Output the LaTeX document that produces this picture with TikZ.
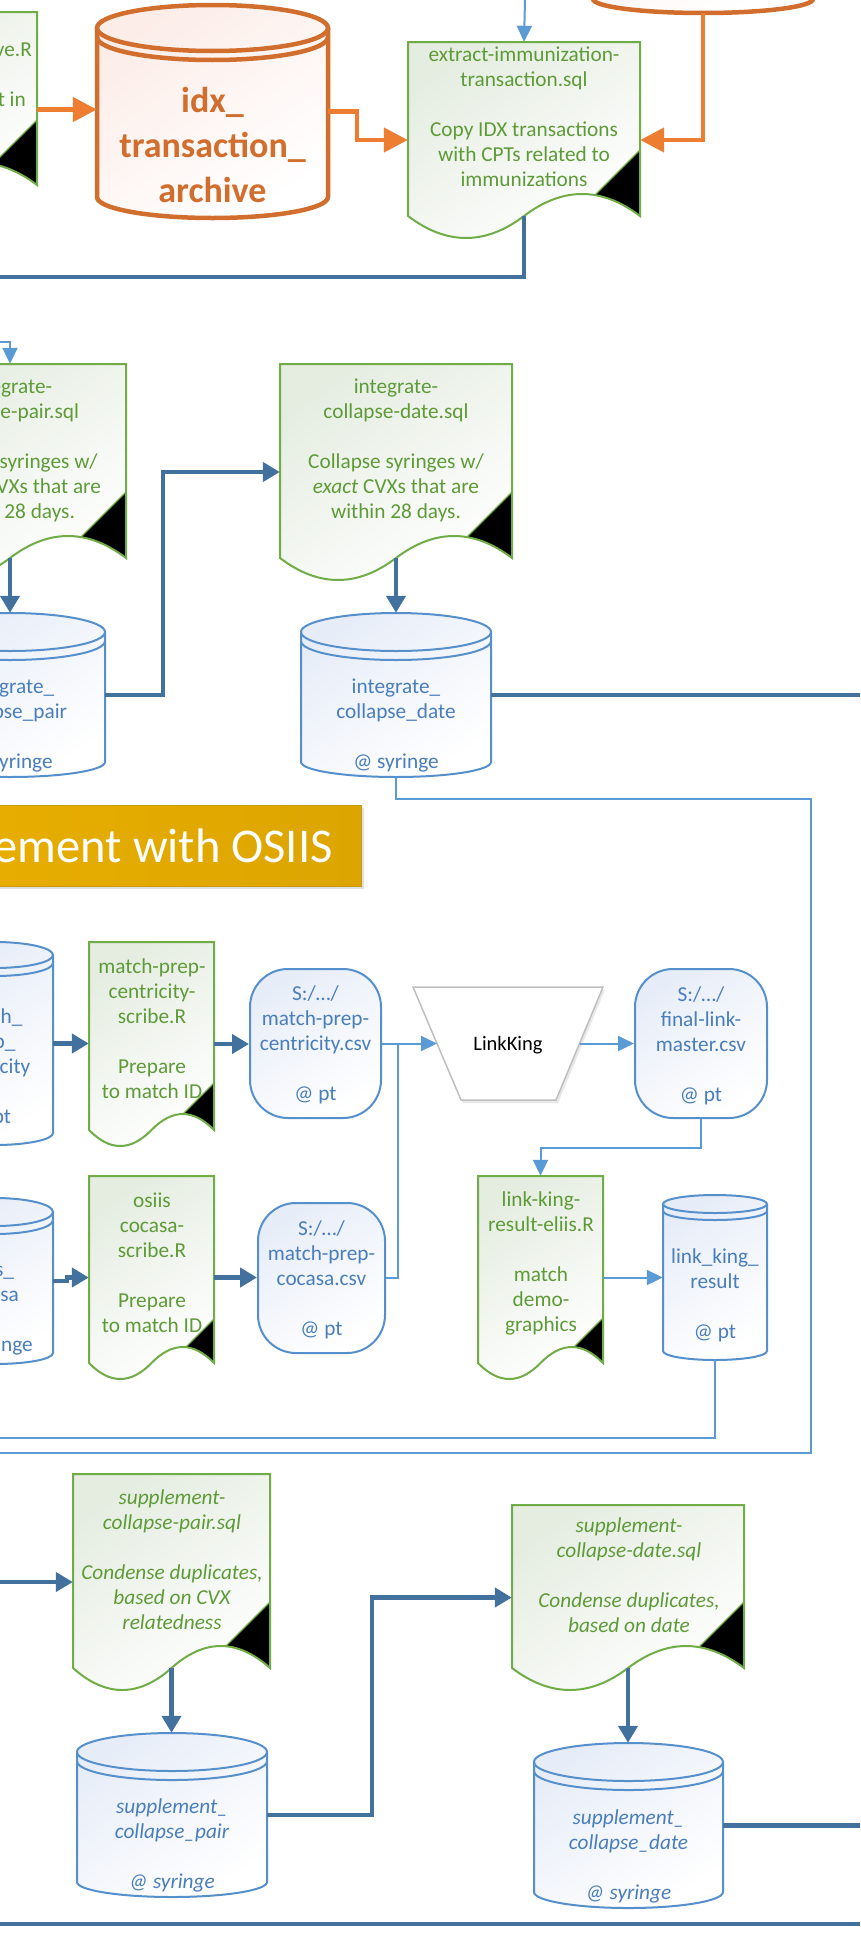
\documentclass[tikz,border=0pt]{standalone}
\usepackage{fontspec}
\setmainfont{Carlito}
\usetikzlibrary{arrows.meta,calc,fit,shadows}
\definecolor{tk}{HTML}{41719C}
\definecolor{tn}{HTML}{5B9BD5}
\definecolor{gline}{HTML}{70AD47}
\definecolor{gtxt}{HTML}{5E9B38}
\definecolor{gfill}{HTML}{E5EDE1}
\definecolor{bline}{HTML}{5590CC}
\definecolor{btxt}{HTML}{4A7EBB}
\definecolor{bfill}{HTML}{E7EDF8}
\definecolor{oline}{HTML}{D26E2D}
\definecolor{oarrow}{HTML}{ED7D31}
\definecolor{ofill}{HTML}{FCEDE8}
\definecolor{gold}{HTML}{DCA500}
\definecolor{goldl}{HTML}{F0B400}
\definecolor{goldd}{HTML}{C89B14}
\newcommand{\st}{\rule{0pt}{19pt}}
\tikzset{
  tkline/.style={draw=tk, line width=4.5pt},
  tkarrow/.style={tkline, -{Triangle[length=17pt,width=19pt]}},
  tnline/.style={draw=tn, line width=2pt},
  tnarrow/.style={tnline, -{Triangle[length=16pt,width=15pt]}},
  orarrow/.style={draw=oarrow, line width=4.5pt, -{Triangle[length=24pt,width=24pt]}},
  docfill/.style={top color=gfill, bottom color=white, shading angle=35},
  docline/.style={draw=gline, line width=2pt},
  cb fill/.style={top color=bfill, bottom color=white, shading angle=35},
  cb line/.style={draw=bline, line width=2pt},
  co fill/.style={top color=ofill, bottom color=white, shading angle=35},
  co line/.style={draw=oline, line width=4.5pt},
  rbox/.style={draw=bline, line width=2pt, rounded corners=38pt, top color=bfill, bottom color=white, shading angle=35, inner sep=0pt},
  tx/.style={inner sep=0pt, anchor=north, align=center, font=\fontsize{21.3}{25}\selectfont},
  gtx/.style={tx, text=gtxt},
  gitx/.style={tx, text=gtxt, font=\fontsize{21.3}{25}\selectfont\itshape},
  btx/.style={tx, text=btxt},
  bitx/.style={tx, text=btxt, font=\fontsize{21.3}{25}\selectfont\itshape},
}
\newcommand{\DOC}[8]{%
  \def\mydocpath{(#2,#4) -- (#3,#4) -- (#3,#5)
    .. controls ({(#3)-((#3)-(#2))/6},{(#5)-1.333*(#6)}) and ({((#2)+(#3))/2+((#3)-(#2))/6},{(#5)-1.333*(#6)}) .. ({((#2)+(#3))/2},#5)
    .. controls ({((#2)+(#3))/2-((#3)-(#2))/6},{(#5)+1.333*(#6)}) and ({(#2)+((#3)-(#2))/6},{(#5)+1.333*(#6)}) .. (#2,#5) -- cycle}%
  \path[docfill] \mydocpath;
  \begin{scope}
    \clip \mydocpath;
    \fill[black] (#3,{(#5)-(#7)}) -- ({(#3)-(#8)-40},{(#5)-(#7)+(#8)+40}) -- ({(#3)+10},{(#5)+60}) -- ({(#3)+10},{(#5)-(#7)}) -- cycle;
    \draw[docline, line width=1.2pt] (#3,{(#5)-(#7)}) -- ({(#3)-(#8)-40},{(#5)-(#7)+(#8)+40});
  \end{scope}
  \draw[docline] \mydocpath;
  \node[fit={(#2,#4) (#3,{(#5)+(#6)})}, inner sep=0pt] (#1) {};
  \coordinate (#1-w) at ({((#2)+(#3))/2},#5);
}
\newcommand{\CYL}[9]{%
  \path[#9 fill] (#2,#5) -- (#2,#6) arc[start angle=180,end angle=0,x radius={((#3)-(#2))/2},y radius={(#7)-(#6)}] -- (#3,#5) arc[start angle=0,end angle=-180,x radius={((#3)-(#2))/2},y radius={(#5)-(#4)}] -- cycle;
  \draw[#9 line] (#2,#5) -- (#2,#6) arc[start angle=180,end angle=0,x radius={((#3)-(#2))/2},y radius={(#7)-(#6)}] -- (#3,#5);
  \draw[#9 line] ({((#2)+(#3))/2},#5) ellipse[x radius={((#3)-(#2))/2},y radius={(#5)-(#4)}];
  \draw[#9 line] (#2,{(#5)+(#8)}) arc[start angle=180,end angle=0,x radius={((#3)-(#2))/2},y radius={(#5)-(#4)}];
  \node[fit={(#2,#4) (#3,#7)}, inner sep=0pt] (#1) {};
}
\begin{document}
\begin{tikzpicture}[x=1pt,y=-1pt]
\useasboundingbox (0,0) rectangle (860,1954);
\clip (0,0) rectangle (860,1954);
\fill[white] (0,0) rectangle (860,1954);

% ---------- top section ----------
\DOC{leftdoc}{-195}{37}{12}{185}{22}{65}{43}
\node[gtx, anchor=base east] (frag1) at (32,56) {ve.R};
\node[gtx, anchor=base east] (frag2) at (26,106) {t in};

\CYL{ocyl}{97}{328}{5}{28}{197}{218}{9}{co}
\node[inner sep=0pt, anchor=north, align=center, text=oline, font=\fontsize{36}{45}\selectfont\bfseries] (tocyl) at (212.5,78) {\rule{0pt}{34pt}idx\_\\transaction\_\\archive};
\CYL{otr}{593}{813}{-220}{-200}{-1}{13}{9}{co}

\DOC{extract}{408}{640}{42}{216}{22}{66}{43}
\node[gtx] (textract) at (524,42) {\st extract-immunization-\\transaction.sql\\[25pt]Copy IDX transactions\\with CPTs related to\\immunizations};

% ---------- integrate section ----------
\DOC{icpairdoc}{-106}{126}{364}{558}{22}{66}{44}
\node[gtx] (ticpairdoc) at (10,374) {\st integrate-\\collapse-pair.sql\\[25pt]Collapse syringes w/\\\phantom{\textit{related}} CVXs that are\\within 28 days.};
\DOC{icdatedoc}{280}{512}{364}{558}{22}{66}{45}
\node[gtx] (ticdatedoc) at (396,374) {\st integrate-\\collapse-date.sql\\[25pt]Collapse syringes w/\\\textit{exact} CVXs that are\\within 28 days.};

\CYL{icpaircyl}{-85}{105}{613}{632}{762}{777}{9}{cb}
\node[btx] (ticpaircyl) at (10,674) {\st integrate\_\\collapse\_pair\\[25pt]@ syringe};
\CYL{icdatecyl}{301}{491}{613}{632}{762}{777}{9}{cb}
\node[btx] (ticdatecyl) at (396,674) {\st integrate\_\\collapse\_date\\[25pt]@ syringe};

% ---------- OSIIS section ----------
\node[fit={(-300,805) (361,886)}, inner sep=0pt, left color=goldl, right color=gold, draw=goldd, line width=1pt, drop shadow={opacity=0.25,shadow xshift=3pt,shadow yshift=-3pt}] (banner) {};
\node[anchor=base east, inner sep=0pt, text=white, font=\fontsize{48.5}{56}\selectfont] (tbanner) at (333,862) {Supplement with OSIIS};

\CYL{mpccyl}{-63}{53}{942}{955}{1133}{1145}{8}{cb}
\node[btx] (tmpccyl) at (-10,1004) {\st match\_\\prep\_\\centricity\\[25pt]@ pt};
\DOC{mpcdoc}{89}{214}{942}{1130}{16}{47}{29}
\node[gtx] (tmpcdoc) at (152,954) {\st match-prep-\\centricity-\\scribe.R\\[25pt]Prepare\\to match ID};
\node[rbox, minimum width=131pt, minimum height=149pt] (mpcsv) at (315.5,1043.5) {};
\node[btx] (tmpcsv) at (315.5,981) {\st S:/…/\\match-prep-\\centricity.csv\\[25pt]@ pt};

\draw[draw=black!25, line width=1.5pt, fill=white, drop shadow={opacity=0.18,shadow xshift=2pt,shadow yshift=-3pt}] (413,987) -- (603,987) -- (556,1100) -- (461,1100) -- cycle;
\node[fit={(413,987) (603,1100)}, inner sep=0pt] (lkbox) {};
\node[inner sep=0pt, font=\fontsize{20.5}{24}\selectfont, text=black] (lk) at (508,1045) {LinkKing};
\coordinate (lkW) at (437,1043.5);
\coordinate (lkE) at (579.5,1043.5);

\node[rbox, minimum width=132pt, minimum height=149pt] (flm) at (701,1043.5) {};
\node[btx] (tflm) at (701,982) {\st S:/…/\\final-link-\\master.csv\\[25pt]@ pt};

\CYL{cccyl}{-63}{53}{1198}{1212}{1353}{1364}{8}{cb}
\node[btx] (tcccyl) at (-10,1257) {\st osiis\_\\cocasa\\[25pt]@ syringe};
\DOC{ccdoc}{89}{214}{1176}{1363}{16}{44}{29}
\node[gtx] (tccdoc) at (152,1188) {\st osiis\\cocasa-\\scribe.R\\[25pt]Prepare\\to match ID};
\node[rbox, minimum width=127pt, minimum height=150pt] (ccsv) at (321.5,1278) {};
\node[btx] (tccsv) at (321.5,1216) {\st S:/…/\\match-prep-\\cocasa.csv\\[25pt]@ pt};

\DOC{lkrdoc}{478}{603}{1176}{1363}{16}{45}{30}
\node[gtx] (tlkrdoc) at (541,1187) {\st link-king-\\result-eliis.R\\[25pt]match\\demo-\\graphics};
\CYL{lkrcyl}{663}{767}{1195}{1204}{1351}{1360}{7}{cb}
\node[btx] (tlkrcyl) at (715,1244) {\st link\_king\_\\result\\[25pt]@ pt};

% ---------- supplement section ----------
\DOC{scpdoc}{73}{270}{1474}{1668}{22}{66}{43}
\node[gitx] (tscpdoc) at (172,1485) {\st supplement-\\collapse-pair.sql\\[25pt]Condense duplicates,\\based on CVX\\relatedness};
\CYL{scpcyl}{77}{267}{1733}{1752}{1882}{1897}{9}{cb}
\node[bitx] (tscpcyl) at (172,1794) {\st supplement\_\\collapse\_pair\\[25pt]@ syringe};
\DOC{scddoc}{512}{744}{1505}{1668}{22}{66}{44}
\node[gitx] (tscddoc) at (629,1513) {\st supplement-\\collapse-date.sql\\[25pt]Condense duplicates,\\based on date};
\CYL{scdcyl}{534}{723}{1743}{1762}{1892}{1908}{9}{cb}
\node[bitx] (tscdcyl) at (628.5,1805) {\st supplement\_\\collapse\_date\\[25pt]@ syringe};

% ---------- free ends ----------
\coordinate (topin) at (525,0);
\coordinate (lft1) at (0,277);
\coordinate (lft2) at (0,342);
\coordinate (rt1) at (860,694);
\coordinate (c811) at (811,799);
\coordinate (lft3) at (0,1453);
\coordinate (j1) at (398,1043.5);
\coordinate (lft4) at (0,1438);
\coordinate (lft5) at (0,1582);
\coordinate (rt2) at (860,1826);
\coordinate (bl) at (0,1924);
\coordinate (br) at (860,1924);

% ---------- connectors ----------
\draw[orarrow] (leftdoc.east) -- (leftdoc.east -| ocyl.west);
\draw[orarrow] (ocyl.east) -- ++(29,0) |- (extract.west);
\draw[orarrow] (otr.south) |- (extract.east);
\draw[tnarrow] (topin) -- (extract.north);
\draw[tkline] (extract-w) |- (lft1);

\draw[tnarrow] (lft2) -| (icpairdoc.north);
\draw[tkarrow] (icpairdoc-w) -- (icpairdoc-w |- icpaircyl.north);
\draw[tkarrow] (icpaircyl.east) -- ++(58,0) |- (icdatedoc.west);
\draw[tkarrow] (icdatedoc-w) -- (icdatedoc-w |- icdatecyl.north);
\draw[tkline] (icdatecyl.east) -- (icdatecyl.east -| rt1);
\draw[tnline] (icdatecyl.south) |- (c811) |- (lft3);

\draw[tkarrow] (mpccyl.east) -- (mpccyl.east -| mpcdoc.west);
\draw[tkarrow] (mpcdoc.east) -- (mpcdoc.east -| mpcsv.west);
\draw[tnarrow] (mpcsv.east) -- (lkW);
\draw[tnline] (ccsv.east) -| (j1);
\draw[tnarrow] (lkE) -- (lkE -| flm.west);
\draw[tnarrow] (flm.south) -- ++(0,29) -| (lkrdoc.north);
\draw[tkarrow] (cccyl.east) -- ++(14,0) |- (ccdoc.west);
\draw[tkarrow] (ccdoc.east) -- (ccdoc.east -| ccsv.west);
\draw[tnarrow] (lkrdoc.east) -- (lkrdoc.east -| lkrcyl.west);
\draw[tnline] (lkrcyl.south) |- (lft4);

\draw[tkarrow] (lft5) -- (lft5 -| scpdoc.west);
\draw[tkarrow] (scpdoc-w) -- (scpdoc-w |- scpcyl.north);
\draw[tkarrow] (scpcyl.east) -- ++(105,0) |- (scddoc.west);
\draw[tkarrow] (scddoc-w) -- (scddoc-w |- scdcyl.north);
\draw[tkline] (scdcyl.east) -- (scdcyl.east -| rt2);
\draw[tkline] (bl) -- (br);
\end{tikzpicture}
\end{document}
